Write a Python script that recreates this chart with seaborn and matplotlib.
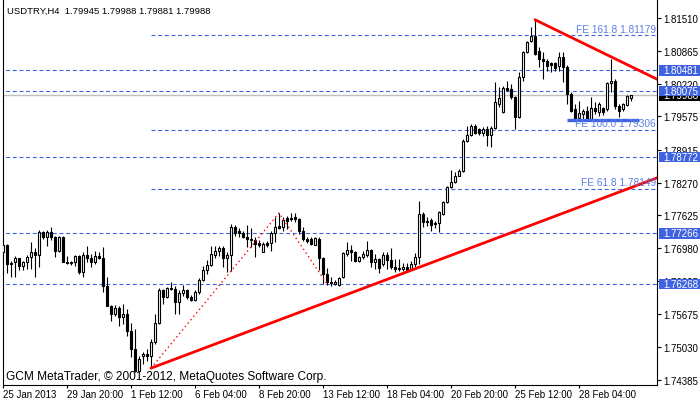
import numpy as np
import matplotlib
matplotlib.use("Agg")
import matplotlib.pyplot as plt
import matplotlib.transforms as mtrans
from matplotlib.patches import Rectangle
import seaborn as sns

# USDTRY H4 bars
opens = [
    1.7690, 1.7704, 1.7666, 1.7670, 1.7678, 1.7663, 1.7670, 1.7680, 1.7690, 1.7684,
    1.7730, 1.7720, 1.7730, 1.7720, 1.7692, 1.7720, 1.7670, 1.7668, 1.7670, 1.7682,
    1.7651, 1.7684, 1.7678, 1.7670, 1.7682, 1.7678, 1.7623, 1.7584, 1.7568, 1.7580,
    1.7562, 1.7568, 1.7534, 1.7499, 1.7455, 1.7485, 1.7489, 1.7485, 1.7513, 1.7550,
    1.7615, 1.7601, 1.7619, 1.7617, 1.7592, 1.7609, 1.7615, 1.7601, 1.7595, 1.7611,
    1.7635, 1.7655, 1.7664, 1.7684, 1.7692, 1.7698, 1.7678, 1.7684, 1.7739, 1.7732,
    1.7728, 1.7720, 1.7716, 1.7714, 1.7708, 1.7690, 1.7708, 1.7708, 1.7728, 1.7741,
    1.7739, 1.7757, 1.7757, 1.7759, 1.7755, 1.7732, 1.7716, 1.7716, 1.7704, 1.7716,
    1.7678, 1.7647, 1.7631, 1.7627, 1.7625, 1.7641, 1.7686, 1.7694, 1.7690, 1.7672,
    1.7680, 1.7684, 1.7694, 1.7670, 1.7676, 1.7666, 1.7684, 1.7674, 1.7661, 1.7659,
    1.7657, 1.7661, 1.7657, 1.7666, 1.7680, 1.7765, 1.7751, 1.7753, 1.7747, 1.7747,
    1.7765, 1.7789, 1.7818, 1.7828, 1.7840, 1.7850, 1.7909, 1.7921, 1.7939, 1.7933,
    1.7925, 1.7933, 1.7921, 1.7935, 1.7982, 1.7966, 1.8014, 1.8012, 1.7996, 1.7956,
    1.8035, 1.8085, 1.8106, 1.8116, 1.8087, 1.8071, 1.8067, 1.8063, 1.8063, 1.8057,
    1.8075, 1.8055, 1.8002, 1.7972, 1.7954, 1.7962, 1.7968, 1.7952, 1.7974, 1.7966,
    1.7974, 1.7972, 1.8023, 1.8027, 1.7978, 1.7972, 1.7980, 1.79945,
]
highs = [
    1.7706, 1.7706, 1.7672, 1.7682, 1.7678, 1.7672, 1.7684, 1.7710, 1.7698, 1.7734,
    1.7732, 1.7734, 1.7739, 1.7722, 1.7722, 1.7722, 1.7682, 1.7672, 1.7684, 1.7684,
    1.7690, 1.7702, 1.7686, 1.7692, 1.7690, 1.7700, 1.7641, 1.7586, 1.7586, 1.7584,
    1.7588, 1.7578, 1.7550, 1.7538, 1.7485, 1.7493, 1.7499, 1.7519, 1.7568, 1.7619,
    1.7617, 1.7621, 1.7631, 1.7623, 1.7615, 1.7625, 1.7617, 1.7605, 1.7615, 1.7639,
    1.7663, 1.7674, 1.7702, 1.7702, 1.7702, 1.7702, 1.7690, 1.7745, 1.7743, 1.7737,
    1.7732, 1.7743, 1.7737, 1.7720, 1.7714, 1.7710, 1.7712, 1.7732, 1.7759, 1.7767,
    1.7759, 1.7761, 1.7767, 1.7767, 1.7757, 1.7739, 1.7720, 1.7720, 1.7720, 1.7720,
    1.7680, 1.7659, 1.7641, 1.7635, 1.7641, 1.7690, 1.7710, 1.7704, 1.7692, 1.7682,
    1.7692, 1.7712, 1.7696, 1.7686, 1.7678, 1.7690, 1.7690, 1.7698, 1.7676, 1.7676,
    1.7668, 1.7668, 1.7672, 1.7688, 1.7791, 1.7769, 1.7759, 1.7757, 1.7751, 1.7771,
    1.7791, 1.7820, 1.7852, 1.7848, 1.7854, 1.7913, 1.7939, 1.7943, 1.7943, 1.7935,
    1.7937, 1.7939, 1.7939, 1.8025, 1.8016, 1.8017, 1.8027, 1.8021, 1.7998, 1.8045,
    1.8087, 1.8106, 1.8134, 1.8148, 1.8094, 1.8085, 1.8071, 1.8065, 1.8065, 1.8085,
    1.8085, 1.8059, 1.8006, 1.7982, 1.7988, 1.7972, 1.7978, 1.7996, 1.7986, 1.7986,
    1.7976, 1.8025, 1.8071, 1.8031, 1.7982, 1.7984, 1.8000, 1.79988,
]
lows = [
    1.7688, 1.7649, 1.7641, 1.7641, 1.7655, 1.7655, 1.7657, 1.7657, 1.7641, 1.7661,
    1.7716, 1.7702, 1.7714, 1.7680, 1.7690, 1.7670, 1.7666, 1.7664, 1.7663, 1.7647,
    1.7641, 1.7670, 1.7661, 1.7666, 1.7676, 1.7611, 1.7584, 1.7554, 1.7564, 1.7544,
    1.7548, 1.7524, 1.7483, 1.7453, 1.7453, 1.7469, 1.7475, 1.7463, 1.7509, 1.7548,
    1.7588, 1.7599, 1.7615, 1.7568, 1.7568, 1.7603, 1.7597, 1.7594, 1.7594, 1.7607,
    1.7633, 1.7647, 1.7663, 1.7678, 1.7682, 1.7661, 1.7651, 1.7653, 1.7722, 1.7720,
    1.7718, 1.7700, 1.7700, 1.7680, 1.7700, 1.7690, 1.7700, 1.7692, 1.7710, 1.7735,
    1.7732, 1.7735, 1.7751, 1.7749, 1.7726, 1.7712, 1.7708, 1.7704, 1.7704, 1.7655,
    1.7627, 1.7625, 1.7623, 1.7625, 1.7623, 1.7639, 1.7682, 1.7672, 1.7670, 1.7670,
    1.7676, 1.7680, 1.7661, 1.7657, 1.7649, 1.7663, 1.7657, 1.7657, 1.7651, 1.7653,
    1.7653, 1.7653, 1.7655, 1.7661, 1.7666, 1.7739, 1.7741, 1.7732, 1.7737, 1.7730,
    1.7763, 1.7787, 1.7816, 1.7826, 1.7839, 1.7848, 1.7907, 1.7919, 1.7923, 1.7921,
    1.7919, 1.7899, 1.7897, 1.7933, 1.7976, 1.7964, 1.8008, 1.7992, 1.7933, 1.7954,
    1.8027, 1.8082, 1.8104, 1.8079, 1.8055, 1.8031, 1.8047, 1.8045, 1.8047, 1.8047,
    1.8025, 1.7982, 1.7966, 1.7948, 1.7952, 1.7952, 1.7948, 1.7950, 1.7962, 1.7958,
    1.7960, 1.7968, 1.8006, 1.7972, 1.7956, 1.7968, 1.7978, 1.79881,
]
closes = [
    1.7704, 1.7666, 1.7668, 1.7678, 1.7663, 1.7670, 1.7680, 1.7690, 1.7684, 1.7730,
    1.7720, 1.7730, 1.7720, 1.7692, 1.7720, 1.7670, 1.7668, 1.7670, 1.7682, 1.7651,
    1.7684, 1.7678, 1.7670, 1.7682, 1.7678, 1.7623, 1.7584, 1.7568, 1.7580, 1.7562,
    1.7568, 1.7534, 1.7499, 1.7455, 1.7479, 1.7489, 1.7485, 1.7513, 1.7550, 1.7615,
    1.7601, 1.7619, 1.7617, 1.7592, 1.7609, 1.7615, 1.7601, 1.7595, 1.7611, 1.7635,
    1.7655, 1.7664, 1.7686, 1.7692, 1.7698, 1.7678, 1.7684, 1.7739, 1.7728, 1.7728,
    1.7720, 1.7716, 1.7714, 1.7706, 1.7704, 1.7706, 1.7704, 1.7728, 1.7739, 1.7737,
    1.7753, 1.7751, 1.7755, 1.7755, 1.7732, 1.7716, 1.7712, 1.7706, 1.7718, 1.7678,
    1.7647, 1.7631, 1.7629, 1.7631, 1.7639, 1.7688, 1.7694, 1.7690, 1.7672, 1.7680,
    1.7686, 1.7694, 1.7670, 1.7676, 1.7659, 1.7684, 1.7674, 1.7661, 1.7657, 1.7657,
    1.7661, 1.7655, 1.7666, 1.7680, 1.7765, 1.7749, 1.7749, 1.7743, 1.7745, 1.7769,
    1.7789, 1.7818, 1.7828, 1.7840, 1.7850, 1.7909, 1.7921, 1.7939, 1.7925, 1.7925,
    1.7933, 1.7921, 1.7935, 1.7986, 1.7994, 1.8014, 1.8010, 1.7996, 1.7956, 1.8035,
    1.8085, 1.8104, 1.8116, 1.8081, 1.8071, 1.8067, 1.8057, 1.8059, 1.8053, 1.8075,
    1.8055, 1.8002, 1.7968, 1.7952, 1.7964, 1.7968, 1.7952, 1.7974, 1.7968, 1.7982,
    1.7966, 1.8023, 1.8027, 1.7978, 1.7968, 1.7982, 1.7998, 1.79988,
]

x_label_bars = [0, 16, 32, 48, 64, 80, 96, 112, 128, 144]
x_labels = ["25 Jan 2013", "29 Jan 20:00", "1 Feb 12:00", "6 Feb 04:00", "8 Feb 20:00",
            "13 Feb 12:00", "18 Feb 04:00", "20 Feb 20:00", "25 Feb 12:00", "28 Feb 04:00"]
y_ticks = [1.81510, 1.80865, 1.80220, 1.79575, 1.78915, 1.78270, 1.77625,
           1.76980, 1.76335, 1.75675, 1.75030, 1.74385]

level_lines = [1.80481, 1.80075, 1.78772, 1.77266, 1.76268]
fe_levels = [1.81179, 1.79306, 1.78149]
fe_names = ["FE 161.8", "FE 100.0", "FE 61.8"]
bid = 1.79988

support_bars = [37, 157]
support_prices = [1.7461, 1.7817]
resist_bars = [133, 152]
resist_prices = [1.8148, 1.8075]
fe_bars = [37, 69, 81]
fe_prices = [1.7461, 1.7767, 1.7627]
zone_bars = [141, 159]
zone_price = 1.7950

BLUE = "#3f63e0"

sns.set_theme(style="white")
plt.rcParams["font.family"] = ["Liberation Sans", "DejaVu Sans"]

fig = plt.figure(figsize=(7, 4.02), dpi=100)
ax = fig.add_axes([2.5 / 700, 16 / 402, 654.5 / 700, 386 / 402])
ax.set_facecolor("white")
ax.set_xlim(-0.125, 163.5)
ax.set_ylim(1.74278, 1.81889)
px = (1.81889 - 1.74278) / 386

bars = np.arange(len(closes))
o = np.array(opens)
h = np.array(highs)
l = np.array(lows)
c = np.array(closes)
up = c >= o

# levels
ax.axhline(bid, color="#c0c0c0", lw=1, zorder=1)
ax.hlines(level_lines, -1, 170, colors=BLUE, linestyles=[(0, (3.5, 2.5))], lw=0.8, zorder=2)
ax.hlines(fe_levels, fe_bars[0], 170, colors=BLUE, linestyles=[(0, (3.5, 2.5))], lw=0.8, zorder=2)

# candles
ax.vlines(bars, l, h, color="black", lw=0.8, zorder=3)
body_lo = np.minimum(o, c)
body_h = np.maximum(np.abs(c - o), px * 0.5)
ax.bar(bars[up], body_h[up], bottom=body_lo[up], width=0.5, color="white",
       edgecolor="black", lw=0.8, zorder=4)
ax.bar(bars[~up], body_h[~up], bottom=body_lo[~up], width=0.5, color="black",
       edgecolor="black", lw=0.8, zorder=4)


def ray(xs, ys, x_end):
    slope = (ys[1] - ys[0]) / (xs[1] - xs[0])
    return [xs[0], x_end], [ys[0], ys[0] + slope * (x_end - xs[0])]


sx, sy = ray(support_bars, support_prices, 170)
rx, ry = ray(resist_bars, resist_prices, 170)
sns.lineplot(x=sx, y=sy, color="red", lw=2, ax=ax, zorder=6)
sns.lineplot(x=rx, y=ry, color="red", lw=2, ax=ax, zorder=6)
ax.plot(fe_bars, fe_prices, color="red", lw=1, ls=(0, (1, 2.2)), zorder=6)
ax.hlines(zone_price, zone_bars[0], zone_bars[1], colors=BLUE, lw=2.4, zorder=6)

# axes look
for side in ["left", "bottom", "right"]:
    ax.spines[side].set_visible(True)
    ax.spines[side].set_color("black")
    ax.spines[side].set_linewidth(0.8)
ax.spines["top"].set_visible(False)
ax.yaxis.tick_right()
ax.set_yticks(y_ticks)
ax.set_yticklabels([f"{v:.5f}" for v in y_ticks])
ax.set_xticks(x_label_bars)
ax.set_xticklabels(x_labels, ha="left")
ax.tick_params(axis="y", length=3, width=0.8, pad=1.5, labelsize=7, colors="black",
               right=True, left=False)
ax.tick_params(axis="x", length=2.5, width=0.8, pad=0.5, labelsize=7, colors="black",
               bottom=True)
ax.set_xlabel("")
ax.set_ylabel("")

# price boxes on the right scale
trans = mtrans.blended_transform_factory(fig.transFigure, ax.transData)


def price_box(v, face, z):
    fig.add_artist(Rectangle((659 / 700, v - 5.2 * px), 41 / 700, 10.4 * px, transform=trans,
                             facecolor=face, edgecolor="none", zorder=z))
    fig.text(663 / 700, v, f"{v:.5f}", transform=trans, color="white", fontsize=7,
             va="center", ha="left", zorder=z + 0.5)


price_box(bid, "black", 4)
for v in level_lines:
    price_box(v, BLUE, 5)

for v, name in zip(fe_levels, fe_names):
    fig.text(656 / 700, v + 1.5 * px, f"{name} {v:.5f}", transform=trans, ha="right",
             va="bottom", color="#5b7ee5", fontsize=7.3, zorder=7)

fig.text(7 / 700, 1 - 11 / 402, "USDTRY,H4  1.79945 1.79988 1.79881 1.79988",
         fontsize=6.8, va="center", ha="left", color="black")
fig.text(6 / 700, 1 - 377 / 402, "GCM MetaTrader, © 2001-2012, MetaQuotes Software Corp.",
         fontsize=8.6, va="center", ha="left", color="black", zorder=7)

fig.savefig("out.png", dpi=100)
